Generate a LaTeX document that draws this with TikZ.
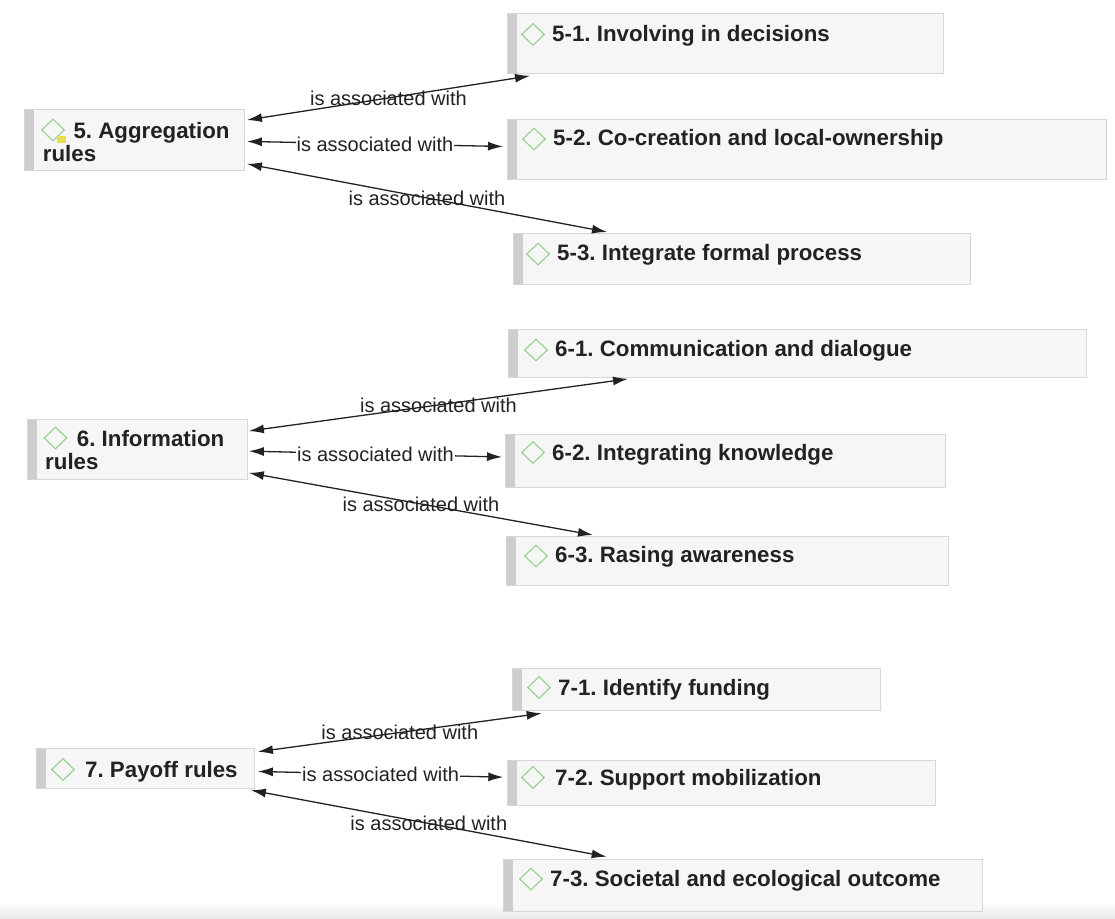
\documentclass[tikz,border=0pt]{standalone}
\usepackage{fontspec}
\setmainfont{Liberation Sans}
\usetikzlibrary{arrows.meta,shapes.geometric,positioning}
\frenchspacing

\definecolor{boxfill}{HTML}{F6F6F6}
\definecolor{boxline}{HTML}{D6D6D6}
\definecolor{boxbar}{HTML}{CDCDCD}
\definecolor{dmdgreen}{HTML}{95D18E}
\definecolor{notecol}{HTML}{EDDD55}
\definecolor{ink}{HTML}{222222}

\tikzset{
	concept/.style={draw=boxline,fill=boxfill,line width=0.9pt,inner sep=0pt,anchor=north west,
		path picture={\fill[boxbar] (path picture bounding box.north west) rectangle ([xshift=10pt]path picture bounding box.south west);}},
	title/.style={anchor=west,inner sep=0pt,text=ink,font=\fontsize{22.3}{23}\selectfont\bfseries,
		text height=15.75pt,text depth=0pt},
	twoline/.style={anchor=north west,inner sep=0pt,align=left,text=ink,font=\fontsize{22.3}{23}\selectfont\bfseries},
	dmd/.style={diamond,draw=dmdgreen,line width=1.1pt,inner sep=0pt,minimum width=23pt,minimum height=22pt},
	assoc/.style={>={Latex[length=15pt,width=9pt]},<->,line width=1.3pt,draw=ink},
	rel/.style={inner sep=1pt,text=ink,font=\fontsize{20}{22}\selectfont}
}

\begin{document}
\begin{tikzpicture}[x=1pt,y=-1pt]
		\useasboundingbox (0,0) rectangle (1115,918);
		\shade[top color=white,bottom color=black!9] (0,902) rectangle (1115,918);
		
		% 5. Aggregation rules
		\node[concept,minimum width=220,minimum height=61] (b5) at (24,109) {};
		\node[twoline] (t5) at ([shift={(18.7,12.7)}]b5.north west) {\hspace*{30.6pt}5. Aggregation\\rules};
		\node[dmd] (d5) at ([shift={(10.3,8.3)}]t5.north west) {};
		\fill[notecol] (57,136) rectangle (66,143);
		
		\node[concept,minimum width=436,minimum height=60] (b51) at (507,13) {};
		\node[title] (t51) at ([shift={(45,20.5)}]b51.north west) {5-1. Involving in decisions};
		\node[dmd] (d51) at ([shift={(-19,1)}]t51.west) {};
		
		\node[concept,minimum width=599,minimum height=60] (b52) at (507,119) {};
		\node[title] (t52) at ([shift={(46,19)}]b52.north west) {5-2. Co-creation and local-ownership};
		\node[dmd] (d52) at ([shift={(-19,1)}]t52.west) {};
		
		\node[concept,minimum width=457,minimum height=51] (b53) at (513,233) {};
		\node[title] (t53) at ([shift={(44,20)}]b53.north west) {5-3. Integrate formal process};
		\node[dmd] (d53) at ([shift={(-19,1)}]t53.west) {};
		
		\draw[assoc] ([shift={(2,11)}]b5.north east) -- node[rel] (l51) {is associated with} ([shift={(23,2)}]b51.south west);
		\draw[assoc] ([shift={(2,1.5)}]b5.east) -- node[rel,fill=white] (l52) {is associated with} ([shift={(-4,-3)}]b52.west);
		\draw[assoc] ([shift={(2,-7)}]b5.south east) -- node[rel] (l53) {is associated with} ([shift={(94,-1)}]b53.north west);
		
		% 6. Information rules
		\node[concept,minimum width=220,minimum height=60] (b6) at (27,419) {};
		\node[twoline] (t6) at ([shift={(18,11)}]b6.north west) {\hspace*{31.7pt}6. Information\\rules};
		\node[dmd] (d6) at ([shift={(10.5,8)}]t6.north west) {};
		
		\node[concept,minimum width=578,minimum height=48] (b61) at (508,329) {};
		\node[title] (t61) at ([shift={(47,20)}]b61.north west) {6-1. Communication and dialogue};
		\node[dmd] (d61) at ([shift={(-19,1)}]t61.west) {};
		
		\node[concept,minimum width=440,minimum height=53] (b62) at (505,434) {};
		\node[title] (t62) at ([shift={(47,18.5)}]b62.north west) {6-2. Integrating knowledge};
		\node[dmd] (d62) at ([shift={(-19,0)}]t62.west) {};
		
		\node[concept,minimum width=442,minimum height=49] (b63) at (506,536) {};
		\node[title] (t63) at ([shift={(49,19)}]b63.north west) {6-3. Rasing awareness};
		\node[dmd] (d63) at ([shift={(-19,1)}]t63.west) {};
		
		\draw[assoc] ([shift={(1,12)}]b6.north east) -- node[rel] (l61) {is associated with} ([shift={(120,1)}]b61.south west);
		\draw[assoc] ([shift={(1,1.7)}]b6.east) -- node[rel,fill=white] (l62) {is associated with} ([shift={(-3,-4)}]b62.west);
		\draw[assoc] ([shift={(1,-7)}]b6.south east) -- node[rel] (l63) {is associated with} ([shift={(87,-1)}]b63.north west);
		
		% 7. Payoff rules
		\node[concept,minimum width=218,minimum height=40] (b7) at (36,748) {};
		\node[title] (t7) at ([shift={(49,21.5)}]b7.north west) {7. Payoff rules};
		\node[dmd] (d7) at ([shift={(-22,0)}]t7.west) {};
		
		\node[concept,minimum width=368,minimum height=42] (b71) at (511.7,667.7) {};
		\node[title] (t71) at ([shift={(46.3,19.8)}]b71.north west) {7-1. Identify funding};
		\node[dmd] (d71) at ([shift={(-19,0)}]t71.west) {};
		
		\node[concept,minimum width=428,minimum height=45] (b72) at (506.7,760) {};
		\node[title] (t72) at ([shift={(48.3,17.5)}]b72.north west) {7-2. Support mobilization};
		\node[dmd] (d72) at ([shift={(-22,0)}]t72.west) {};
		
		\node[concept,minimum width=479,minimum height=52] (b73) at (503,859) {};
		\node[title] (t73) at ([shift={(47,20)}]b73.north west) {7-3. Societal and ecological outcome};
		\node[dmd] (d73) at ([shift={(-19,0)}]t73.west) {};
		
		\draw[assoc] ([shift={(3,3.7)}]b7.north east) -- node[rel] (l71) {is associated with} ([shift={(30,2.7)}]b71.south west);
		\draw[assoc] ([shift={(3,3)}]b7.east) -- node[rel,fill=white] (l72) {is associated with} ([shift={(-3.4,-5.8)}]b72.west);
		\draw[assoc] ([shift={(-4,1.3)}]b7.south east) -- node[rel] (l73) {is associated with} ([shift={(103.7,-2.3)}]b73.north west);
\end{tikzpicture}
\end{document}
